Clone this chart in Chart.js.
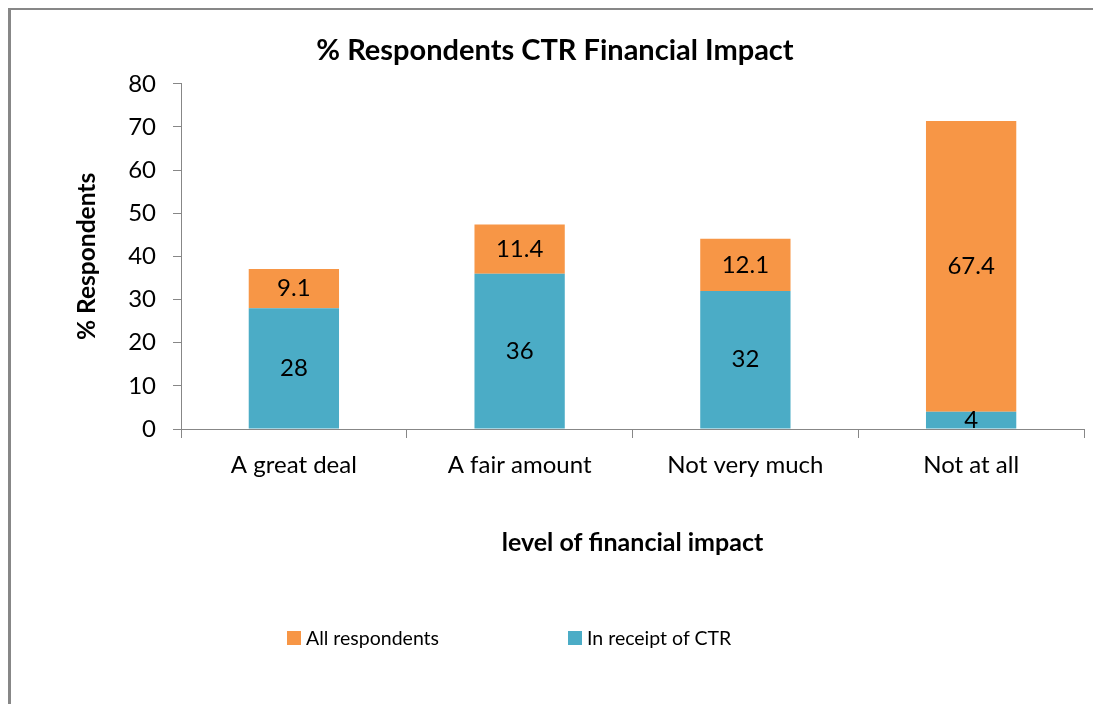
<!DOCTYPE html>
<html>
<head>
<meta charset="utf-8">
<script src="https://cdn.jsdelivr.net/npm/chart.js@4.4.1/dist/chart.umd.min.js"></script>
<style>
  html, body { margin: 0; padding: 0; background: #fff; overflow: hidden; }
  #frame {
    position: absolute; left: 8px; top: 8px; width: 1200px; height: 800px;
    border-left: 3px solid #878787; border-top: 2px solid #878787; box-sizing: border-box;
  }
  #wrap { position: absolute; left: 0; top: 0; width: 1112px; height: 704px; }
  #legend {
    position: absolute; left: 287px; top: 626px; display: flex;
    font-family: Lato, sans-serif; font-size: 19.5px; color: #000;
  }
  #legend .item { display: flex; align-items: center; }
  #legend .item:first-child { width: 281px; }
  #legend .box { width: 14px; height: 14px; margin-right: 5px; }
</style>
</head>
<body>
<div id="frame"></div>
<div id="wrap"><canvas id="ctrChart" width="1112" height="704"></canvas></div>
<div id="legend"></div>
<script>
// categories + values
const categories = ["A great deal", "A fair amount", "Not very much", "Not at all"];
const inReceipt = [28, 36, 32, 4];
const allRespondents = [9.1, 11.4, 12.1, 67.4];
const yTicks = [0, 10, 20, 30, 40, 50, 60, 70, 80];

const TEAL = "#4BACC6";
const ORANGE = "#F79646";
const AXIS = "#878787";

// writes the value in the middle of each bar segment
const segmentLabels = {
  id: "segmentLabels",
  afterDatasetsDraw(chart) {
    const ctx = chart.ctx;
    ctx.save();
    ctx.font = "24px Lato";
    ctx.fillStyle = "#000";
    ctx.textAlign = "center";
    ctx.textBaseline = "middle";
    chart.data.datasets.forEach((ds, i) => {
      chart.getDatasetMeta(i).data.forEach((bar, j) => {
        const p = bar.getProps(["x", "y", "base"], true);
        ctx.fillText(ds.data[j], p.x, (p.y + p.base) / 2);
      });
    });
    ctx.restore();
  }
};

const chart = new Chart(document.getElementById("ctrChart"), {
  type: "bar",
  data: {
    labels: categories,
    datasets: [
      { label: "In receipt of CTR", data: inReceipt, backgroundColor: TEAL },
      { label: "All respondents", data: allRespondents, backgroundColor: ORANGE }
    ]
  },
  options: {
    responsive: false,
    animation: false,
    layout: { padding: { left: 26, right: 28, top: 0, bottom: 135 } },
    datasets: { bar: { barPercentage: 0.4, categoryPercentage: 1.0 } },
    plugins: {
      legend: { display: false },
      tooltip: { enabled: false },
      title: {
        display: true,
        text: "% Respondents CTR Financial Impact",
        color: "#000",
        font: { family: "Lato", size: 29, weight: "bold" },
        padding: { top: 33, bottom: 16 }
      }
    },
    scales: {
      x: {
        stacked: true,
        grid: { offset: true, drawOnChartArea: false, color: AXIS, tickLength: 9 },
        border: { color: AXIS },
        ticks: { color: "#000", font: { family: "Lato", size: 24 }, padding: 13 },
        title: {
          display: true,
          text: "level of financial impact",
          color: "#000",
          font: { family: "Lato", size: 25, weight: "bold" },
          padding: { top: 0, bottom: 11 }
        },
        afterFit(scale) { scale.height = 140; }
      },
      y: {
        stacked: true,
        min: 0,
        max: 80,
        afterBuildTicks(scale) { scale.ticks = yTicks.map(v => ({ value: v })); },
        grid: { drawOnChartArea: false, color: AXIS, tickLength: 8 },
        border: { color: AXIS },
        ticks: { color: "#000", font: { family: "Lato", size: 24 }, padding: 17 },
        title: {
          display: true,
          text: "% Respondents",
          color: "#000",
          font: { family: "Lato", size: 24.5, weight: "bold" },
          padding: { top: 46, bottom: 0 }
        },
        afterFit(scale) { scale.width = 155; }
      }
    }
  },
  plugins: [segmentLabels]
});

// legend in the picture lists "All respondents" first
const legendEl = document.getElementById("legend");
chart.data.datasets.slice().reverse().forEach(ds => {
  const item = document.createElement("div");
  item.className = "item";
  const box = document.createElement("span");
  box.className = "box";
  box.style.background = ds.backgroundColor;
  const txt = document.createElement("span");
  txt.textContent = ds.label;
  item.appendChild(box);
  item.appendChild(txt);
  legendEl.appendChild(item);
});
</script>
</body>
</html>
